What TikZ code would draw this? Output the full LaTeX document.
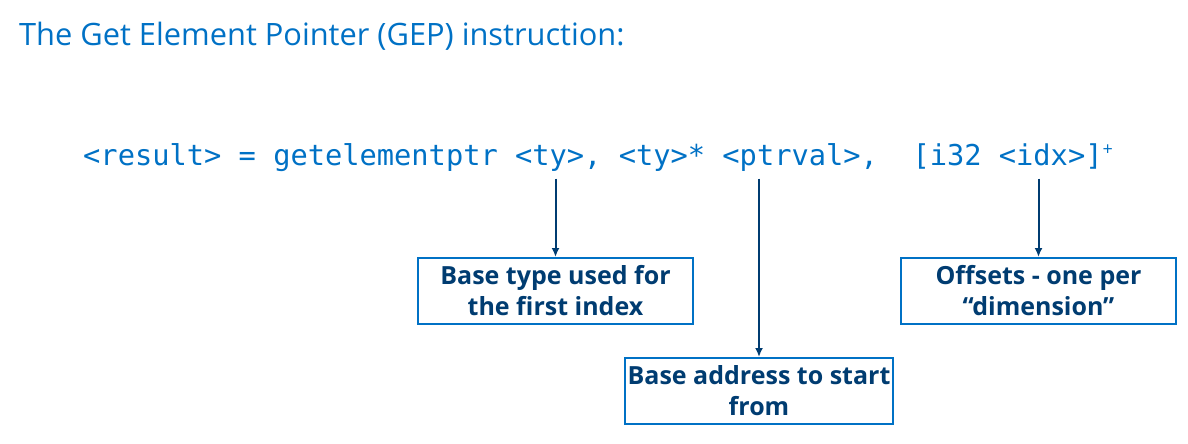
\documentclass[tikz,border=0pt]{standalone}
\usepackage{fontspec}
\setmainfont{Open Sans}
\setmonofont{DejaVu Sans Mono}
\usetikzlibrary{arrows.meta,positioning}
\definecolor{gepblue}{HTML}{0071C5}
\definecolor{gepnavy}{HTML}{003C71}
\begin{document}
\begin{tikzpicture}[x=1pt,y=-1pt,
  gepbox/.style={draw=gepblue,line width=2pt,text=gepnavy,font=\fontsize{25}{31}\selectfont\bfseries,align=center,minimum width=275pt,minimum height=66pt,inner sep=0pt},
  geparrow/.style={draw=gepnavy,line width=2pt,-{Latex[length=9pt,width=8pt]}}]
\useasboundingbox (0,0) rectangle (1188,444);
% heading
\node[anchor=base west,inner sep=0pt,text=gepblue,font=\fontsize{30.8}{36}\selectfont] (title) at (19,45.7) {The Get Element Pointer (GEP) instruction:};
% instruction syntax
\node[anchor=base west,inner xsep=0pt,inner ysep=6.5pt,text=gepblue,font=\ttfamily\fontsize{28.7}{34}\selectfont] (code) at (83,165.7) {<result> = getelementptr <ty>, <ty>* <ptrval>, \ [i32 <idx>]\raisebox{10pt}{\rmfamily\fontsize{18}{18}\selectfont+}};
% callout boxes
\node[gepbox] (tybox) at (555.5,291) {Base type used for\\the first index};
\node[gepbox,minimum width=268pt] (ptrbox) at (759,391) {Base address to start\\from};
\node[gepbox] (idxbox) at (1038.5,291) {Offsets - one per\\“dimension”};
% arrows down to the boxes
\foreach \b in {tybox,ptrbox,idxbox}
  \draw[geparrow] (code.south -| \b.north) -- (\b.north);
\end{tikzpicture}
\end{document}
